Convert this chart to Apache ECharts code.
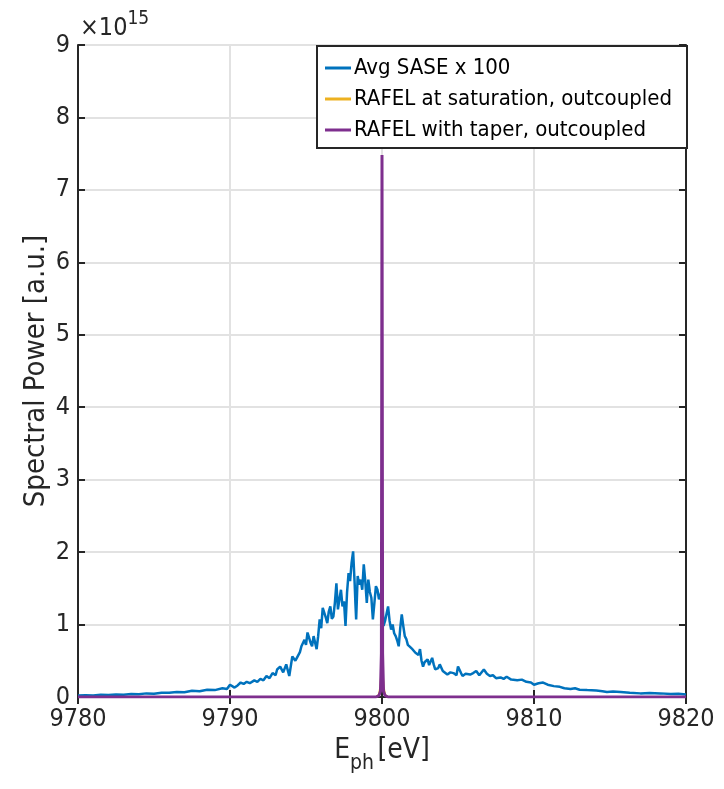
<!DOCTYPE html>
<html>
<head>
<meta charset="utf-8">
<script src="https://cdn.jsdelivr.net/npm/echarts@6/dist/echarts.min.js"></script>
<style>
  html, body { margin: 0; padding: 0; background: #fff; }
  #chart { width: 724px; height: 789px; }
</style>
</head>
<body>
<div id="chart"></div>
<script>
// photon energy [eV] and spectral power [x1e15 a.u.]
const saseX = [9780.0, 9780.5, 9781.0, 9781.5, 9782.0, 9782.5, 9783.0, 9783.5, 9784.0, 9784.5,
  9785.0, 9785.5, 9786.0, 9786.5, 9787.0, 9787.5, 9788.0, 9788.5, 9789.0, 9789.5,
  9789.8, 9790.0, 9790.3, 9790.5, 9790.7, 9790.9, 9791.1, 9791.3, 9791.6, 9791.8,
  9792.0, 9792.2, 9792.4, 9792.6, 9792.8, 9793.0, 9793.1, 9793.3, 9793.5, 9793.7,
  9793.9, 9794.1, 9794.3, 9794.4, 9794.6, 9794.7, 9794.9, 9795.0, 9795.1, 9795.3,
  9795.4, 9795.5, 9795.7, 9795.8, 9795.9, 9796.0, 9796.1, 9796.3, 9796.4, 9796.5,
  9796.6, 9796.7, 9796.8, 9796.9, 9797.0, 9797.1, 9797.2, 9797.3, 9797.4, 9797.5,
  9797.6, 9797.7, 9797.8, 9797.9, 9798.0, 9798.1, 9798.2, 9798.25, 9798.3, 9798.4,
  9798.5, 9798.6, 9798.7, 9798.8, 9798.9, 9799.0, 9799.1, 9799.2, 9799.3, 9799.4,
  9799.5, 9799.6, 9799.7, 9799.8, 9799.9, 9800.0, 9800.1, 9800.2, 9800.3, 9800.4,
  9800.5, 9800.6, 9800.7, 9800.8, 9800.9, 9801.0, 9801.1, 9801.2, 9801.3, 9801.4,
  9801.5, 9801.6, 9801.7, 9801.8, 9802.0, 9802.2, 9802.4, 9802.5, 9802.6, 9802.7,
  9802.8, 9803.0, 9803.1, 9803.3, 9803.4, 9803.5, 9803.7, 9803.8, 9804.0, 9804.3,
  9804.5, 9804.7, 9804.9, 9805.0, 9805.2, 9805.3, 9805.5, 9805.8, 9806.0, 9806.2,
  9806.4, 9806.7, 9806.9, 9807.1, 9807.3, 9807.5, 9807.8, 9808.0, 9808.2, 9808.5,
  9808.9, 9809.2, 9809.5, 9809.8, 9810.0, 9810.3, 9810.6, 9810.9, 9811.3, 9811.7,
  9812.0, 9812.4, 9812.7, 9813.0, 9813.5, 9814.1, 9814.5, 9814.8, 9815.2, 9815.7,
  9816.3, 9817.0, 9817.6, 9818.3, 9819.0, 9819.5, 9820.0];
const saseY = [0.02, 0.025, 0.02, 0.03, 0.028, 0.035, 0.03, 0.04, 0.038, 0.05,
  0.045, 0.06, 0.058, 0.07, 0.065, 0.085, 0.08, 0.10, 0.095, 0.12,
  0.11, 0.17, 0.13, 0.16, 0.20, 0.18, 0.21, 0.19, 0.23, 0.21,
  0.25, 0.23, 0.29, 0.26, 0.33, 0.30, 0.38, 0.42, 0.34, 0.45,
  0.29, 0.56, 0.50, 0.54, 0.62, 0.70, 0.79, 0.72, 0.89, 0.75,
  0.70, 0.84, 0.66, 0.84, 1.07, 0.95, 1.23, 1.10, 1.02, 1.18,
  1.25, 1.08, 1.11, 1.30, 1.57, 1.21, 1.35, 1.48, 1.25, 1.32,
  0.98, 1.44, 1.71, 1.60, 1.85, 2.01, 1.57, 1.30, 1.07, 1.67,
  1.55, 1.62, 1.48, 1.83, 1.60, 1.30, 1.62, 1.45, 1.37, 1.07,
  1.30, 1.53, 1.48, 1.35, 1.40, 1.50, 0.98, 1.05, 1.15, 1.25,
  1.05, 0.93, 1.00, 0.88, 0.84, 0.78, 0.70, 0.95, 1.14, 0.98,
  0.84, 0.80, 0.72, 0.70, 0.66, 0.61, 0.58, 0.66, 0.50, 0.42,
  0.48, 0.52, 0.44, 0.54, 0.45, 0.38, 0.40, 0.45, 0.36, 0.31,
  0.34, 0.33, 0.30, 0.42, 0.33, 0.29, 0.32, 0.31, 0.33, 0.36,
  0.30, 0.38, 0.32, 0.29, 0.30, 0.26, 0.27, 0.25, 0.28, 0.24,
  0.23, 0.24, 0.21, 0.20, 0.17, 0.19, 0.20, 0.17, 0.15, 0.14,
  0.12, 0.11, 0.12, 0.10, 0.095, 0.09, 0.08, 0.07, 0.075, 0.07,
  0.06, 0.05, 0.055, 0.05, 0.04, 0.045, 0.035];

const satX = [9780, 9799.6, 9799.8, 9799.9, 9800.0, 9800.1, 9800.2, 9800.4, 9820];
const satY = [0, 0, 0.03, 0.15, 0.5, 0.15, 0.03, 0, 0];

const taperX = [9780, 9799.6, 9799.8, 9799.9, 9799.96, 9800.0, 9800.04, 9800.1, 9800.2, 9800.4, 9820];
const taperY = [0, 0, 0.02, 0.08, 0.6, 7.48, 0.6, 0.08, 0.02, 0, 0];

const xTicks = [9780, 9820, 10];
const yTicks = [0, 9, 1];

function pairs(xs, ys) {
  return xs.map((x, i) => [x, ys[i]]);
}

const chart = echarts.init(document.getElementById('chart'));
const axisColor = '#262626';
const font = "'Liberation Sans Narrow', 'DejaVu Sans Condensed', sans-serif";

const option = {
  backgroundColor: '#fff',
  animation: false,
  textStyle: { fontFamily: font },
  grid: { left: 78, right: 38, top: 45, bottom: 92, outerBoundsMode: 'none' },
  legend: {
    left: 320, top: 52, z: 20,
    orient: 'vertical',
    itemGap: 9,
    itemWidth: 26, itemHeight: 3,
    icon: 'rect',
    textStyle: { fontFamily: font, fontSize: 22, color: '#000', padding: [0, 0, 0, -2] },
    data: ['Avg SASE x 100', 'RAFEL at saturation, outcoupled', 'RAFEL with taper, outcoupled']
  },
  xAxis: [{
    type: 'value',
    min: xTicks[0], max: xTicks[1], interval: xTicks[2],
    name: '{e|E}{s|ph} {e|[eV]}',
    nameLocation: 'middle', nameGap: 30, nameMoveOverlap: false,
    nameTextStyle: {
      rich: {
        e: { fontFamily: font, fontSize: 28, color: axisColor },
        s: { fontFamily: font, fontSize: 21, color: axisColor, padding: [26, 0, 0, 0] }
      }
    },
    axisLine: { lineStyle: { color: axisColor, width: 2 } },
    axisTick: { inside: true, length: 7, lineStyle: { color: axisColor, width: 2 } },
    axisLabel: { fontFamily: font, fontSize: 25, color: axisColor, margin: 10, formatter: v => String(v) },
    splitLine: { show: true, lineStyle: { color: '#e2e2e2', width: 2 } }
  }, {
    type: 'value', position: 'top',
    min: xTicks[0], max: xTicks[1], interval: xTicks[2],
    axisLine: { show: true, lineStyle: { color: axisColor, width: 2 } },
    axisTick: { show: true, inside: true, length: 7, lineStyle: { color: axisColor, width: 2 } },
    axisLabel: { show: false },
    splitLine: { show: false }
  }],
  yAxis: [{
    type: 'value',
    min: yTicks[0], max: yTicks[1], interval: yTicks[2],
    name: 'Spectral Power [a.u.]',
    nameLocation: 'middle', nameGap: 27, nameMoveOverlap: false,
    nameTextStyle: { fontFamily: font, fontSize: 29, color: axisColor },
    axisLine: { show: true, lineStyle: { color: axisColor, width: 2 } },
    axisTick: { show: true, inside: true, length: 7, lineStyle: { color: axisColor, width: 2 } },
    axisLabel: { fontFamily: font, fontSize: 25, color: axisColor, margin: 8 },
    splitLine: { show: true, lineStyle: { color: '#e2e2e2', width: 2 } }
  }, {
    type: 'value', position: 'right',
    min: yTicks[0], max: yTicks[1], interval: yTicks[2],
    axisLine: { show: true, lineStyle: { color: axisColor, width: 2 } },
    axisTick: { show: true, inside: true, length: 7, lineStyle: { color: axisColor, width: 2 } },
    axisLabel: { show: false },
    splitLine: { show: false }
  }],
  graphic: [{
    type: 'text', left: 80, top: 10,
    style: {
      text: '{a|×10}{b|15}',
      rich: {
        a: { fontFamily: font, fontSize: 25, fill: axisColor },
        b: { fontFamily: font, fontSize: 19, fill: axisColor, padding: [0, 0, 18, 0] }
      }
    }
  }, {
    type: 'rect', left: 316, top: 45, z: 10,
    shape: { width: 370, height: 102 },
    style: { fill: '#fff', stroke: axisColor, lineWidth: 2 }
  }],
  series: [{
    name: 'Avg SASE x 100', type: 'line',
    data: pairs(saseX, saseY),
    showSymbol: false, symbol: 'none',
    lineStyle: { color: '#0072BD', width: 2.5 },
    itemStyle: { color: '#0072BD' }
  }, {
    name: 'RAFEL at saturation, outcoupled', type: 'line',
    data: pairs(satX, satY),
    showSymbol: false, symbol: 'none', z: 2,
    lineStyle: { color: '#EDB120', width: 2 },
    itemStyle: { color: '#EDB120' }
  }, {
    name: 'RAFEL with taper, outcoupled', type: 'line',
    data: pairs(taperX, taperY),
    showSymbol: false, symbol: 'none', z: 3,
    lineStyle: { color: '#7E2F8E', width: 3 },
    itemStyle: { color: '#7E2F8E' }
  }]
};
chart.setOption(option);
</script>
</body>
</html>
